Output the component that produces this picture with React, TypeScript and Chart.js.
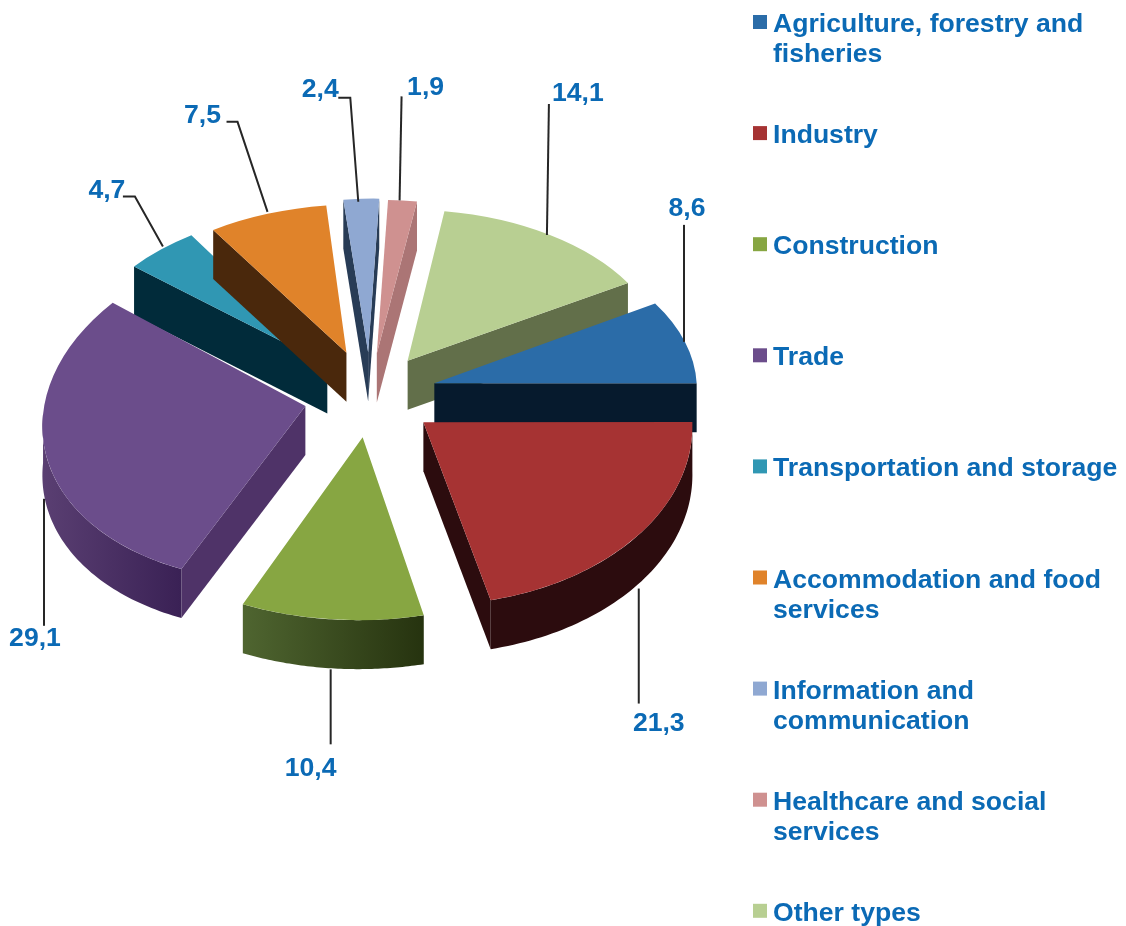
import React, { useEffect, useRef } from "react";
import { Chart, registerables } from "chart.js";

Chart.register(...registerables);

const categories = [
  "Agriculture, forestry and fisheries",
  "Industry",
  "Construction",
  "Trade",
  "Transportation and storage",
  "Accommodation and food services",
  "Information and communication",
  "Healthcare and social services",
  "Other types",
];
const values = [8.6, 21.3, 10.4, 29.1, 4.7, 7.5, 2.4, 1.9, 14.1];
const legendLines = [
  ["Agriculture, forestry and", "fisheries"],
  ["Industry"],
  ["Construction"],
  ["Trade"],
  ["Transportation and storage"],
  ["Accommodation and food", "services"],
  ["Information and", "communication"],
  ["Healthcare and social", "services"],
  ["Other types"],
];
const topColors = ["#2b6ca8", "#a63333", "#87a642", "#6b4d8b", "#3097b3", "#e0832a", "#8fa8d2", "#cf9190", "#b8cf92"];
const sideColors = ["#061a2d", "#2c0c0e", "#26330f", "#4f3368", "#012b3a", "#4a280c", "#283c56", "#ab7575", "#626f4a"];
const wallLeft = ["#061a2d", "#2c0c0e", "#4f6530", "#5a3f72", "#012b3a", "#4a280c", "#283c56", "#ab7575", "#626f4a"];
const wallRight = ["#061a2d", "#2c0c0e", "#26330f", "#3a2155", "#012b3a", "#4a280c", "#283c56", "#ab7575", "#626f4a"];

// Projection of each exploded slice (perspective: the front is larger than the back)
const scaleX = [0.99, 1.015, 1.07, 0.99, 0.966, 0.96, 0.9, 0.92, 0.97];
const scaleY = [0.585, 0.69, 0.69, 0.66, 0.59, 0.56, 0.58, 0.58, 0.57];
const shearX = [0.03, 0.02, -0.017, -0.07, -0.037, -0.045, -0.02, -0.02, 0];
const shearY = [0, 0, 0, -0.03, 0, 0, 0, 0, 0];
const explode = [68, 66, 63, 66, 68, 79, 72, 70, 70];
const DEPTH = 49;
const paintOrder = [4, 5, 6, 7, 8, 0, 3, 2, 1];

// Callouts, relative to the point of the slice edge at its mid-angle
const anchorNudge = [[-1, 0], [1, 4], [-1, 1], [-2, -5], [2, -3], [0, -2], [-3, 3], [-3, 0], [-3, 0]];
const leaderElbow = [null, null, null, null, [-28, -50], [-30, -90], [-8, -104], null, null];
const leaderEnd = [[0, -117], [0, 115], [0, 75], [0, 127], [-40, -50], [-41, -90], [-20, -104], [2, -104], [2, -131]];
const labelOffset = [[3, -135], [20, 133], [-20, 97], [-9, 138], [-56, -58], [-65, -98], [-38, -114], [26, -115], [31, -143]];

const TEXT = "#0b6ab5";
const FONT = 'bold 26.6px "Liberation Sans", Arial, sans-serif';

function geom(chart: any, i: number) {
  const el = chart.getDatasetMeta(0).data[i];
  const mid = (el.startAngle + el.endAngle) / 2;
  const sx = scaleX[i];
  const sy = scaleY[i];
  const bx = shearX[i];
  const cy = shearY[i];
  const e = explode[i];
  const r = el.outerRadius;
  const pt = (t: number, rad = r) => {
    const X = e * Math.cos(mid) + rad * Math.cos(t);
    const Y = e * Math.sin(mid) + rad * Math.sin(t);
    return { x: el.x + sx * X + bx * Y, y: el.y + cy * X + sy * Y };
  };
  return { el, mid, sx, sy, bx, cy, e, r, pt };
}

function fillPoly(ctx: CanvasRenderingContext2D, pts: { x: number; y: number }[], fill: any) {
  ctx.beginPath();
  pts.forEach((p, k) => (k ? ctx.lineTo(p.x, p.y) : ctx.moveTo(p.x, p.y)));
  ctx.closePath();
  ctx.fillStyle = fill;
  ctx.fill();
}

const pie3d = {
  id: "pie3d",
  beforeDatasetDraw(chart: any) {
    const ctx: CanvasRenderingContext2D = chart.ctx;
    for (const i of paintOrder) {
      const { el, mid, sx, sy, bx, cy, e, pt } = geom(chart, i);
      const apex = pt(0, 0);
      const down = (p: { x: number; y: number }) => ({ x: p.x, y: p.y + DEPTH });
      const a0 = el.startAngle;
      const a1 = el.endAngle;
      if (Math.cos(a0) < 0) {
        const s = pt(a0);
        fillPoly(ctx, [apex, s, down(s), down(apex)], sideColors[i]);
      }
      if (Math.cos(a1) > 0) {
        const s = pt(a1);
        fillPoly(ctx, [apex, s, down(s), down(apex)], sideColors[i]);
      }
      const t0 = Math.max(a0, 0);
      const t1 = Math.min(a1, Math.PI);
      if (t1 > t0) {
        const arc: { x: number; y: number }[] = [];
        const N = 60;
        for (let k = 0; k <= N; k++) arc.push(pt(t0 + ((t1 - t0) * k) / N));
        const xs = arc.map((p) => p.x);
        const g = ctx.createLinearGradient(Math.min(...xs), 0, Math.max(...xs), 0);
        g.addColorStop(0, wallLeft[i]);
        g.addColorStop(1, wallRight[i]);
        fillPoly(ctx, [...arc, ...arc.slice().reverse().map(down)], g);
      }
      ctx.save();
      ctx.translate(el.x, el.y);
      ctx.transform(sx, cy, bx, sy, 0, 0);
      ctx.translate(-el.x, -el.y);
      ctx.translate(e * Math.cos(mid), e * Math.sin(mid));
      el.draw(ctx);
      ctx.restore();
    }
    return false;
  },
  afterDatasetsDraw(chart: any) {
    const ctx: CanvasRenderingContext2D = chart.ctx;
    ctx.save();
    values.forEach((v, i) => {
      const { mid, pt } = geom(chart, i);
      const p = pt(mid);
      const front = Math.sin(mid) > 0;
      const ax = p.x + anchorNudge[i][0];
      const ay = p.y + (front ? DEPTH : 0) + anchorNudge[i][1];
      ctx.beginPath();
      ctx.moveTo(ax, ay);
      const elbow = leaderElbow[i];
      if (elbow) ctx.lineTo(ax + elbow[0], ay + elbow[1]);
      ctx.lineTo(ax + leaderEnd[i][0], ay + leaderEnd[i][1]);
      ctx.strokeStyle = "#262626";
      ctx.lineWidth = 2;
      ctx.stroke();
      ctx.font = FONT;
      ctx.fillStyle = TEXT;
      ctx.textAlign = "center";
      ctx.textBaseline = "alphabetic";
      ctx.fillText(String(v).replace(".", ","), ax + labelOffset[i][0], ay + labelOffset[i][1] + 9.5);
    });
    // legend
    ctx.textAlign = "left";
    legendLines.forEach((lines, i) => {
      const base = 32 + 111.1 * i;
      ctx.fillStyle = topColors[i];
      ctx.fillRect(753, base - 17, 14, 14);
      ctx.fillStyle = TEXT;
      ctx.font = FONT;
      lines.forEach((t, k) => ctx.fillText(t, 773, base + k * 30));
    });
    ctx.restore();
  },
};

export default function App() {
  const ref = useRef<HTMLCanvasElement>(null);
  useEffect(() => {
    const chart = new Chart(ref.current as HTMLCanvasElement, {
      type: "pie",
      data: {
        labels: categories,
        datasets: [
          {
            data: values,
            backgroundColor: topColors,
            borderWidth: 0,
            radius: 265,
          } as any,
        ],
      },
      options: {
        responsive: false,
        animation: false,
        rotation: 59,
        layout: { padding: { left: 0, right: 386, top: 0, bottom: 138 } },
        plugins: { legend: { display: false }, tooltip: { enabled: false } },
      },
      plugins: [pie3d as any],
    });
    return () => chart.destroy();
  }, []);
  return (
    <div style={{ position: "absolute", left: 0, top: 0, width: 1126, height: 926, background: "#fff", overflow: "hidden" }}>
      <canvas ref={ref} width={1126} height={926} style={{ display: "block" }} />
    </div>
  );
}
